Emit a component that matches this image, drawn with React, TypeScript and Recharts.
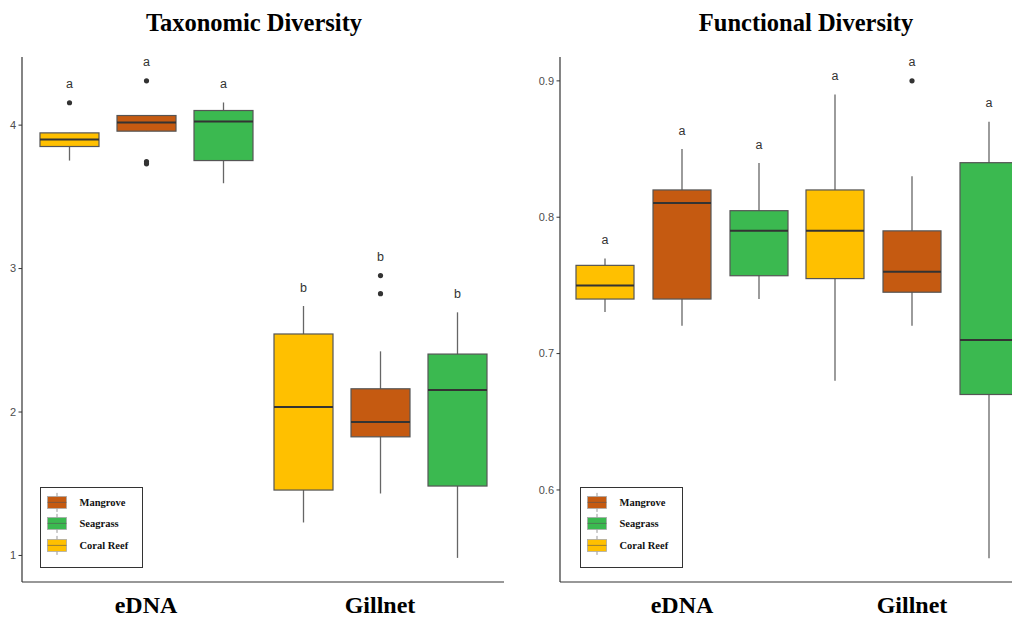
import React from 'react';
import { BarChart, Bar, XAxis, YAxis, Legend } from 'recharts';

// ---------- data ----------
const categories = ['eDNA', 'Gillnet'];
const habitats = ['Coral Reef', 'Mangrove', 'Seagrass'];
const habitatKeys = ['coral', 'mangrove', 'seagrass'];
const habitatColors = ['#FFC000', '#C55A11', '#3BB950'];
const legendOrder = ['Mangrove', 'Seagrass', 'Coral Reef'];

// each entry: [min, q1, median, q3, max] for eDNA, Gillnet
const taxCoralReef = [[3.753, 3.851, 3.9, 3.946, 3.946], [1.23, 1.456, 2.035, 2.544, 2.739]];
const taxMangrove = [[3.958, 3.958, 4.018, 4.067, 4.067], [1.432, 1.827, 1.93, 2.162, 2.423]];
const taxSeagrass = [[3.595, 3.753, 4.025, 4.102, 4.158], [0.983, 1.484, 2.153, 2.404, 2.695]];
const taxCoralReefOutliers = [[4.156], []];
const taxMangroveOutliers = [[4.309, 3.745, 3.73], [2.951, 2.825]];
const taxSeagrassOutliers = [[], []];
const taxLetters = [['a', 'a', 'a'], ['b', 'b', 'b']];
const taxTicks = [1, 2, 3, 4];
const taxDomain = [0.815, 4.475];

const funCoralReef = [[0.7305, 0.74, 0.75, 0.7647, 0.7698], [0.68, 0.755, 0.79, 0.82, 0.89]];
const funMangrove = [[0.7205, 0.74, 0.8104, 0.82, 0.85], [0.7205, 0.745, 0.76, 0.79, 0.83]];
const funSeagrass = [[0.74, 0.7571, 0.79, 0.8048, 0.8397], [0.55, 0.67, 0.71, 0.84, 0.87]];
const funCoralReefOutliers = [[], []];
const funMangroveOutliers = [[], [0.9]];
const funSeagrassOutliers = [[], []];
const funLetters = [['a', 'a', 'a'], ['a', 'a', 'a']];
const funTicks = [0.6, 0.7, 0.8, 0.9];
const funDomain = [0.5325, 0.9175];

// ---------- helpers ----------
type Stat = { min: number; q1: number; median: number; q3: number; max: number; outliers: number[]; letter: string };

function buildRows(stats: number[][][], outliers: number[][][], letters: string[][]) {
  return categories.map((category, ci) => {
    const row: any = { category };
    habitatKeys.forEach((key, hi) => {
      const [min, q1, median, q3, max] = stats[hi][ci];
      row[key] = { min, q1, median, q3, max, outliers: outliers[hi][ci], letter: letters[ci][hi] } as Stat;
      row[key + 'Box'] = [q1, q3];
    });
    return row;
  });
}

const taxRows = buildRows(
  [taxCoralReef, taxMangrove, taxSeagrass],
  [taxCoralReefOutliers, taxMangroveOutliers, taxSeagrassOutliers],
  taxLetters
);
const funRows = buildRows(
  [funCoralReef, funMangrove, funSeagrass],
  [funCoralReefOutliers, funMangroveOutliers, funSeagrassOutliers],
  funLetters
);

const BoxShape = (props: any) => {
  const { x, y, width, height, payload, statKey, color } = props;
  const s: Stat = payload[statKey];
  const top = Math.min(y, y + height);
  const h = Math.abs(height);
  const ppu = h / (s.q3 - s.q1);
  const yOf = (v: number) => top + (s.q3 - v) * ppu;
  const cx = x + width / 2;
  const highest = Math.max(s.max, ...(s.outliers.length ? s.outliers : [s.max]));
  return (
    <g>
      <line x1={cx} x2={cx} y1={yOf(s.max)} y2={yOf(s.min)} stroke="#666" strokeWidth={1.3} />
      <rect x={x} y={top} width={width} height={h} fill={color} stroke="#555" strokeWidth={1.2} />
      <line x1={x} x2={x + width} y1={yOf(s.median)} y2={yOf(s.median)} stroke="#333" strokeWidth={2} />
      {s.outliers.map((o, i) => (
        <circle key={i} cx={cx} cy={yOf(o)} r={2.6} fill="#333" />
      ))}
      <text
        x={cx}
        y={yOf(highest) - 18.5}
        textAnchor="middle"
        dominantBaseline="central"
        fontSize={12.5}
        fontFamily="Liberation Sans, Arial, sans-serif"
        fill="#333"
      >
        {s.letter}
      </text>
    </g>
  );
};

const LegendBox = () => {
  const rowsY = [16, 37, 59];
  return (
    <div
      style={{
        width: 103,
        height: 81,
        border: '1.6px solid #333',
        boxSizing: 'border-box',
        background: '#fff',
      }}
    >
      <svg width={100} height={78} style={{ display: 'block' }}>
        {legendOrder.map((name, i) => {
          const color = habitatColors[habitats.indexOf(name)];
          const cy = rowsY[i] - 1.6;
          return (
            <g key={name}>
              <line x1={16} x2={16} y1={cy - 9.5} y2={cy + 9.5} stroke="#999" strokeWidth={1} />
              <rect x={6.5} y={cy - 6} width={19} height={12} fill={color} stroke="#aaa" strokeWidth={0.8} />
              <line x1={6.5} x2={25.5} y1={cy} y2={cy} stroke="#555" strokeWidth={1} opacity={0.6} />
              <text
                x={38.5}
                y={cy}
                dominantBaseline="central"
                fontSize={10.5}
                fontWeight="bold"
                fontFamily="Liberation Serif, 'Times New Roman', serif"
                fill="#111"
              >
                {name}
              </text>
            </g>
          );
        })}
      </svg>
    </div>
  );
};

const axisTick = { fontSize: 11, fill: '#4D4D4D', fontFamily: 'Liberation Sans, Arial, sans-serif' };
const catTick = {
  fontSize: 24,
  fontWeight: 'bold',
  fill: '#000',
  fontFamily: "Liberation Serif, 'Times New Roman', serif",
};

type PanelProps = {
  rows: any[];
  ticks: number[];
  domain: number[];
  width: number;
  yAxisWidth: number;
  marginRight: number;
  barSize: number;
  barGap: number;
  legendLeft: number;
  fmt: (v: number) => string;
};

const Panel = ({ rows, ticks, domain, width, yAxisWidth, marginRight, barSize, barGap, legendLeft, fmt }: PanelProps) => (
  <BarChart
    width={width}
    height={619}
    data={rows}
    margin={{ top: 57, right: marginRight, bottom: 0, left: 0 }}
    barSize={barSize}
    barGap={barGap}
  >
    <XAxis
      dataKey="category"
      type="category"
      padding={{ left: 7, right: 7 }}
      tickLine={false}
      tickSize={0}
      tickMargin={14}
      height={37}
      axisLine={{ stroke: '#333', strokeWidth: 1.2 }}
      tick={catTick}
    />
    <YAxis
      type="number"
      domain={domain}
      ticks={ticks}
      width={yAxisWidth}
      tickSize={3.5}
      tickMargin={2.5}
      tickFormatter={fmt}
      allowDataOverflow
      axisLine={{ stroke: '#333', strokeWidth: 1.2 }}
      tickLine={{ stroke: '#333' }}
      tick={axisTick}
    />
    {habitatKeys.map((key, i) => (
      <Bar
        key={key}
        dataKey={key + 'Box'}
        name={habitats[i]}
        fill={habitatColors[i]}
        isAnimationActive={false}
        shape={(p: any) => <BoxShape {...p} statKey={key} color={habitatColors[i]} />}
        activeBar={false}
      />
    ))}
    <Legend
      layout="vertical"
      align="center"
      verticalAlign="middle"
      wrapperStyle={{ position: 'absolute', left: legendLeft, top: 487, width: 103, height: 81 }}
      content={() => <LegendBox />}
    />
  </BarChart>
);

export default function App() {
  return (
    <div
      style={{
        position: 'fixed',
        left: 0,
        top: 0,
        width: 1012,
        height: 619,
        overflow: 'hidden',
        background: '#fff',
      }}
    >
      <div style={{ position: 'absolute', left: 0, top: 0 }}>
        <Panel
          rows={taxRows}
          ticks={taxTicks}
          domain={taxDomain}
          width={520}
          yAxisWidth={22}
          marginRight={16}
          barSize={59}
          barGap={18}
          legendLeft={40}
          fmt={(v) => String(v)}
        />
      </div>
      <div style={{ position: 'absolute', left: 510, top: 0 }}>
        <Panel
          rows={funRows}
          ticks={funTicks}
          domain={funDomain}
          width={524}
          yAxisWidth={50}
          marginRight={0}
          barSize={58}
          barGap={19}
          legendLeft={70}
          fmt={(v) => v.toFixed(1)}
        />
      </div>
      <svg width={1012} height={50} style={{ position: 'absolute', left: 0, top: 0 }}>
        <text
          x={254}
          y={31}
          textAnchor="middle"
          fontSize={24.5}
          fontWeight="bold"
          fontFamily="Liberation Serif, 'Times New Roman', serif"
          fill="#000"
        >
          Taxonomic Diversity
        </text>
        <text
          x={806}
          y={31}
          textAnchor="middle"
          fontSize={24.5}
          fontWeight="bold"
          fontFamily="Liberation Serif, 'Times New Roman', serif"
          fill="#000"
        >
          Functional Diversity
        </text>
      </svg>
    </div>
  );
}
